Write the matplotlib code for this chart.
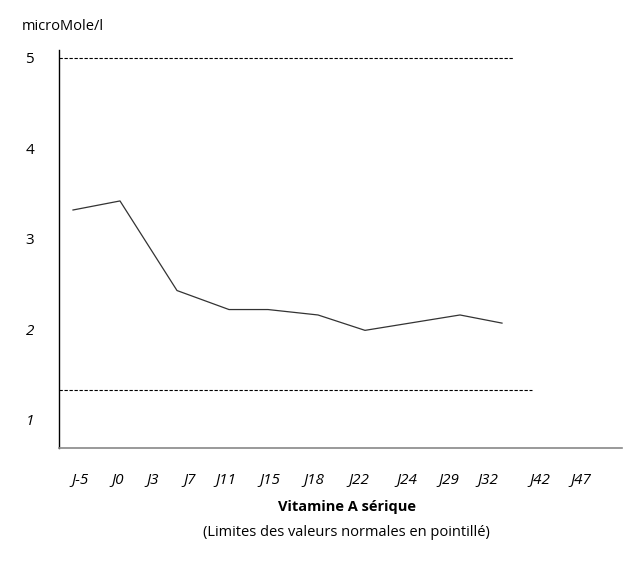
import matplotlib
matplotlib.use("Agg")
import matplotlib.pyplot as plt

plt.rcParams['font.family'] = ['Open Sans', 'DejaVu Sans']

# days shown on the x axis
days = ['J-5', 'J0', 'J3', 'J7', 'J11', 'J15', 'J18', 'J22', 'J24', 'J29', 'J32', 'J42', 'J47']
# serum vitamin A (microMole/l), visible vertices of the curve
vitA = [3.32, 3.42, 2.43, 2.22, 2.22, 2.16, 1.99, 2.16, 2.07]
# normal limits (dashed)
lim_high = 5.0
lim_low = 1.33
yvals = [1, 2, 3, 4, 5]

# layout (drawing is in a free horizontal scale, like the hand-made original)
day_x = [80, 118, 153, 190, 226, 270, 314, 359, 407, 449, 488, 540, 581]
pt_x = [73, 120, 177, 229, 268, 318, 365, 460, 502]

W, H = 642, 570
fig = plt.figure(figsize=(W / 100, H / 100), dpi=100)
ax = fig.add_axes([59 / W, 122 / H, (622 - 59) / W, (448 - 50) / H])
ax.set_xlim(59, 622)
ax.set_ylim(0.69, 5.088)

ax.plot(pt_x, vitA, color='#333333', lw=0.9)
ax.plot([59, 514], [lim_high, lim_high], color='black', lw=0.8, ls=(0, (3, 1.5)))
ax.plot([59, 532], [lim_low, lim_low], color='black', lw=0.8, ls=(0, (3, 1.5)))

for s in ['top', 'right']:
    ax.spines[s].set_visible(False)
ax.spines['left'].set_color('black')
ax.spines['left'].set_linewidth(1.0)
ax.spines['bottom'].set_color('#888888')
ax.spines['bottom'].set_linewidth(1.2)

ax.set_yticks(yvals)
ax.set_yticklabels([str(v) for v in yvals])
ax.tick_params(axis='y', length=0, pad=18, labelsize=11)
for lab, v in zip(ax.get_yticklabels(), yvals):
    if v <= 2:
        lab.set_style('italic')

ax.set_xticks(day_x)
ax.set_xticklabels(days, style='italic')
ax.tick_params(axis='x', length=0, pad=17, labelsize=11)

fig.text(22 / W, 1 - 27 / H, 'microMole/l', fontsize=10.5, va='center', ha='left')
fig.text(347 / W, 1 - 507 / H, 'Vitamine A sérique', fontsize=10.5,
         fontweight='bold', ha='center', va='center')
fig.text(346 / W, 1 - 533 / H, '(Limites des valeurs normales en pointillé)',
         fontsize=10.5, ha='center', va='center')

fig.savefig('out.png', dpi=100)
